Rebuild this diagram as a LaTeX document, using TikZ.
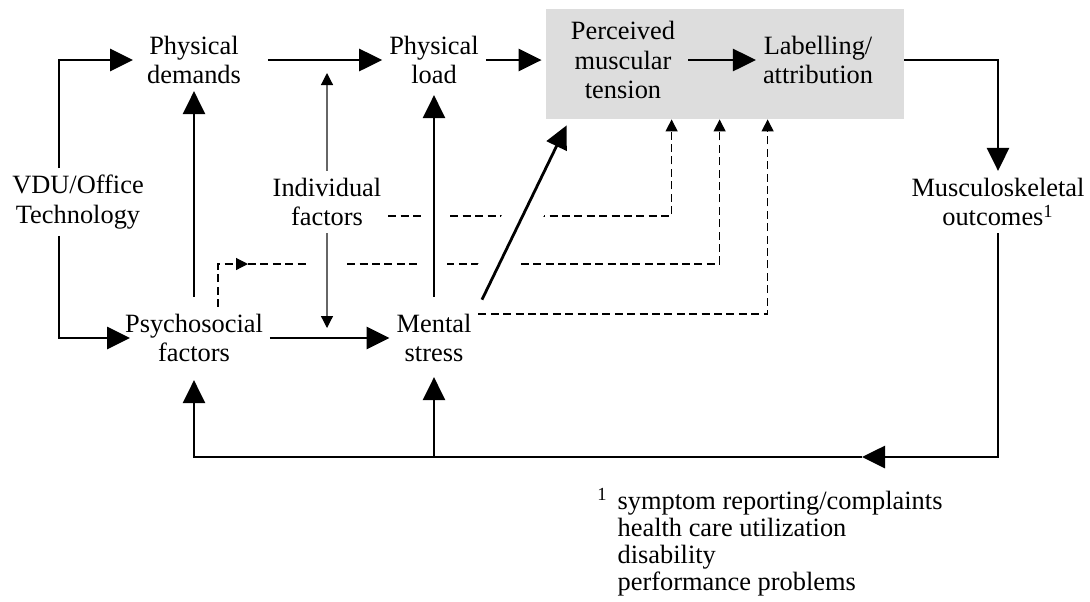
\documentclass[tikz,border=0pt]{standalone}
\usepackage{fontspec}
\setmainfont{Liberation Serif}
\usetikzlibrary{arrows.meta,positioning,fit,backgrounds}
\definecolor{boxgray}{RGB}{221,221,221}

\begin{document}
\begin{tikzpicture}[node distance=2cm,on grid,
    every node/.style={align=center,font=\fontsize{13.2}{14.75}\selectfont},
    solidarrow/.style={line width=1.4pt,-{Triangle[length=11.5pt,width=11pt]}},
    modarrow/.style={black!60,line width=0.6pt,-{Triangle[length=6pt,width=6pt,color=black]}},
    dashline/.style={dash pattern=on 4pt off 2.2pt,line width=0.6pt,-{Triangle[length=6pt,width=6pt]}},
    halo/.style={draw=white,line width=#1}]
    \useasboundingbox (-39pt,-199.5pt) rectangle (506pt,101pt);
    \node (vdu) {VDU/Office\\Technology};
    \node (pd) [above right=71pt and 58pt of vdu] {Physical\\demands};
    \node (psy) [below right=68pt and 58pt of vdu] {Psychosocial\\factors};
    \node (ind) [right=124.5pt of vdu] {Individual\\factors};
    \node (pl) [right=120pt of pd] {Physical\\load};
    \node (ms) [right=120pt of psy] {Mental\\stress};
    \node (pmt) [right=94.5pt of pl] {Perceived\\muscular\\tension};
    \node (la) [right=97.5pt of pmt] {Labelling/\\attribution};
    \node (mo) [right=335.5pt of ind] {Musculoskeletal\\outcomes\textsuperscript{1}};
    \node (note) [below right=153.5pt and 259.5pt of vdu,anchor=base west,inner sep=0,align=left,
        font=\fontsize{13.2}{13.5}\selectfont]
        {\begin{tabular}[t]{@{}l@{\hspace{5pt}}l@{}}
        \textsuperscript{1} & symptom reporting/complaints\\
         & health care utilization\\
         & disability\\
         & performance problems
        \end{tabular}};
    \coordinate (boxnw) at ([shift={(-38.5pt,25.5pt)}]pmt.center);
    \coordinate (boxse) at ([shift={(43pt,-29.5pt)}]la.center);
    \coordinate (turn) at ([shift={(27pt,37pt)}]psy.center);
    \coordinate[below=127.5pt of mo] (fbr);
    \coordinate[left=68pt of fbr] (fbtip);
    \begin{scope}[on background layer]
        \node (box) [fit=(boxnw)(boxse),inner sep=0,fill=boxgray] {};
        \coordinate (in1) at ([xshift=63pt]box.south west);
        \coordinate (in2) at ([xshift=87pt]box.south west);
        \coordinate (in3) at ([xshift=111pt]box.south west);
        \coordinate (diagend) at ([shift={(10.5pt,-3pt)}]box.south west);
        \draw[dashline] ([yshift=-7pt]ind.east) -| (in1);
        \draw[dashline] ([xshift=12pt]psy.north) |- (turn);
        \draw[dashline] (turn) -| (in2);
        \draw[dashline] ([yshift=12pt]ms.east) -| (in3);
        \draw[halo=13pt] (ms.north) -- (pl.south);
        \draw[halo=19pt] (ind.south) -- (ind |- psy);
        \draw[halo=19pt,shorten <=12pt,shorten >=35pt] (ms.north east) -- (diagend);
    \end{scope}
    \draw[solidarrow,shorten >=3.5pt] ([xshift=-9.5pt]vdu.north) |- (pd.west);
    \draw[solidarrow,shorten >=-6pt] ([xshift=-9.5pt]vdu.south) |- (psy.west);
    \draw[solidarrow,shorten <=5pt] (psy) -- (pd);
    \draw[solidarrow] (psy) -- (ms);
    \draw[solidarrow,shorten <=10pt] (pd) -- (pl);
    \draw[solidarrow,shorten >=2pt] (pl) -- (pl -| box.west);
    \draw[solidarrow,shorten <=3pt] (pmt) -- (la);
    \draw[solidarrow] (la -| box.east) -| (mo);
    \draw[solidarrow,shorten <=5pt,shorten >=2pt] (ms) -- (pl);
    \draw[solidarrow,shorten <=4pt] (ms.north east) -- (diagend);
    \draw[modarrow,shorten >=6.5pt] (ind) -- (ind |- pd);
    \draw[modarrow,shorten >=5pt] (ind) -- (ind |- psy);
    \draw[solidarrow] (mo) -- (fbr) -- (fbtip);
    \draw[solidarrow,shorten >=5.5pt] (fbtip) -| (psy);
    \draw[solidarrow,shorten >=4pt] (ms |- fbr) -- (ms);
\end{tikzpicture}
\end{document}
